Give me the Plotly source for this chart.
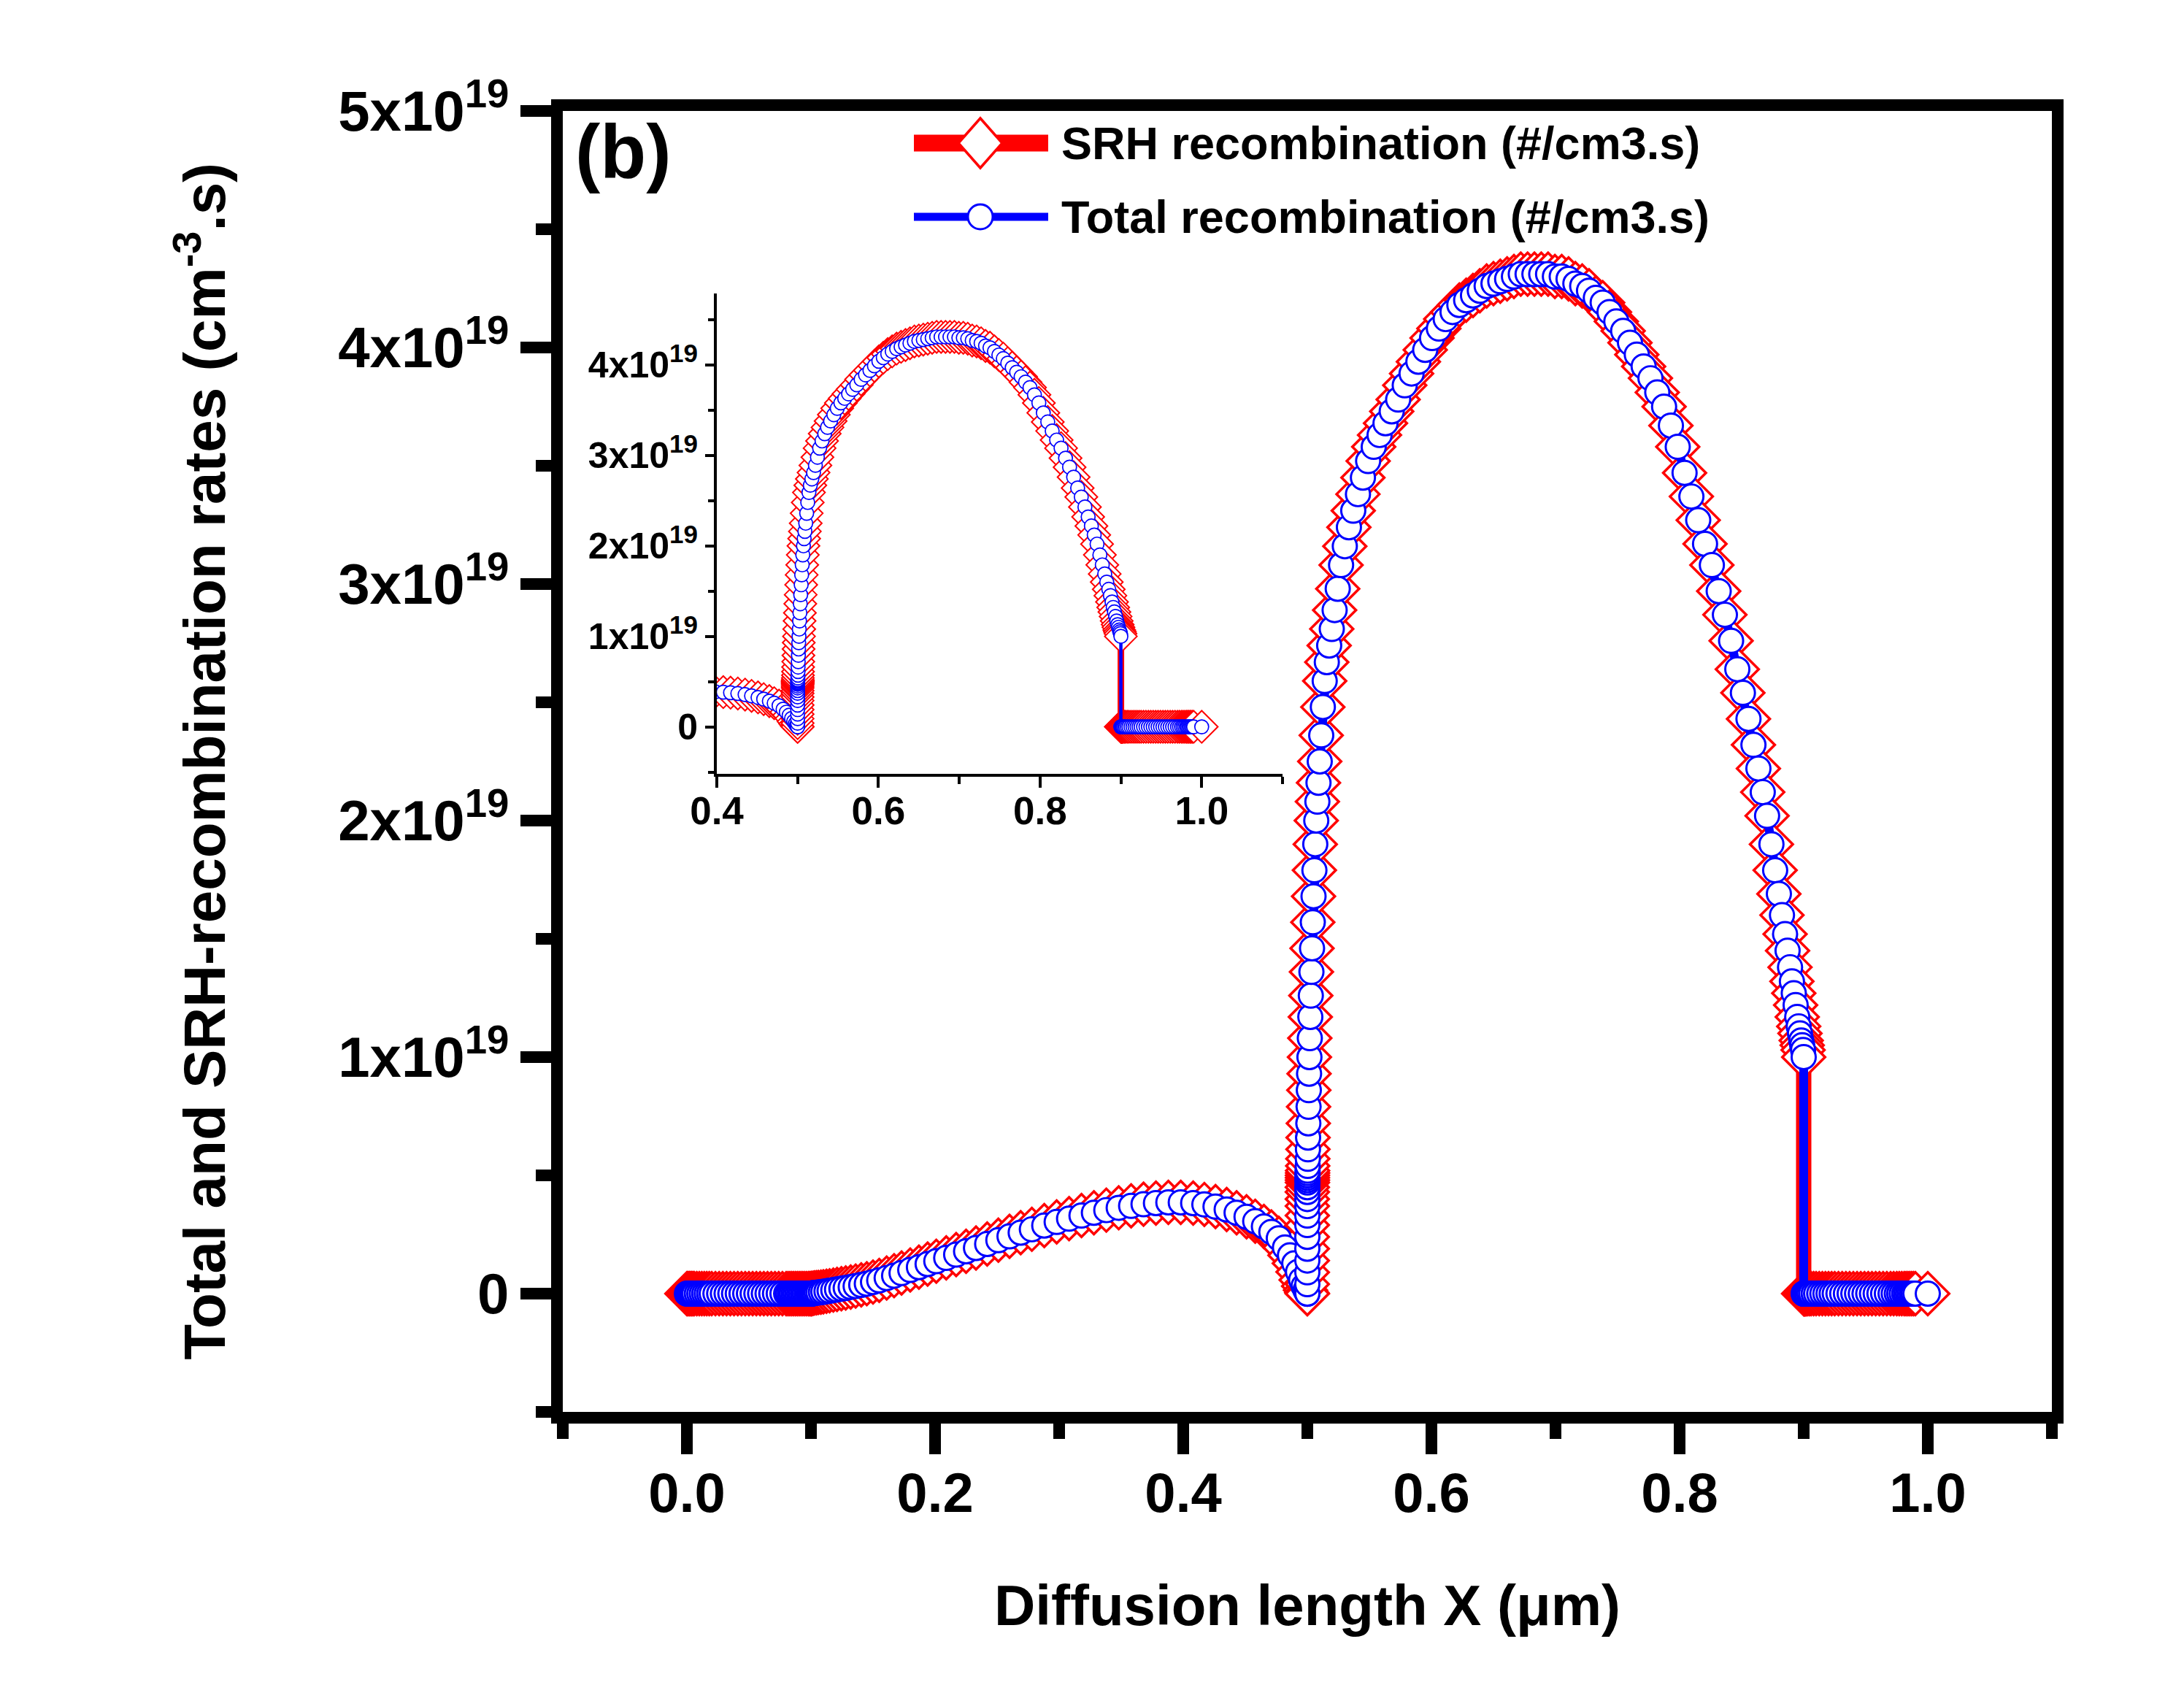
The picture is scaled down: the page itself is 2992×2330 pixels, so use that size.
import plotly.graph_objects as go

# Recombination rate profile, one block per layer.
# depth in um, rates in units of 1e19 cm^-3 s^-1

x_layer1 = [0.0, 0.001, 0.002, 0.003, 0.004, 0.005, 0.006, 0.008, 0.010, 0.012,
            0.014, 0.016, 0.018, 0.020, 0.023, 0.026, 0.029, 0.032, 0.035, 0.038,
            0.041, 0.044, 0.047, 0.050, 0.053, 0.056, 0.059, 0.062, 0.065, 0.068,
            0.071, 0.074, 0.077, 0.080, 0.0815, 0.083, 0.0845, 0.086, 0.0875, 0.089,
            0.0905, 0.092, 0.0935, 0.095, 0.0965, 0.098, 0.099]
rate_layer1 = [0.0, 0.0, 0.0, 0.0, 0.0, 0.0, 0.0, 0.0, 0.0, 0.0,
               0.0, 0.0, 0.0, 0.0, 0.0, 0.0, 0.0, 0.0, 0.0, 0.0,
               0.0, 0.0, 0.0, 0.0, 0.0, 0.0, 0.0, 0.0, 0.0, 0.0,
               0.0, 0.0, 0.0, 0.0, 0.0, 0.0, 0.0, 0.0, 0.0, 0.0,
               0.0, 0.0, 0.0, 0.0, 0.0, 0.0, 0.0]

x_layer2 = [0.1000, 0.1005, 0.1010, 0.1020, 0.1030, 0.1045, 0.1060, 0.1080, 0.1100, 0.1125,
            0.1150, 0.1180, 0.1210, 0.1245, 0.1280, 0.1320, 0.1360, 0.1405, 0.1450, 0.1500,
            0.1550, 0.1610, 0.1670, 0.1730, 0.1800, 0.1870, 0.1940, 0.2010, 0.2090, 0.2170,
            0.2250, 0.2330, 0.2420, 0.2510, 0.2600, 0.2690, 0.2780, 0.2880, 0.2980, 0.3080,
            0.3180, 0.3280, 0.3380, 0.3480, 0.3580, 0.3680, 0.3780, 0.3880, 0.3980, 0.4080,
            0.4170, 0.4260, 0.4350, 0.4430, 0.4510, 0.4580, 0.4650, 0.4710, 0.4770, 0.4820,
            0.4860, 0.4895, 0.4925, 0.4950, 0.4970, 0.4985, 0.4995, 0.5000]
rate_layer2 = [0.000, 0.000, 0.001, 0.002, 0.003, 0.004, 0.005, 0.006, 0.008, 0.010,
               0.012, 0.015, 0.018, 0.021, 0.024, 0.028, 0.032, 0.037, 0.042, 0.049,
               0.056, 0.066, 0.076, 0.087, 0.100, 0.112, 0.125, 0.137, 0.151, 0.165,
               0.179, 0.193, 0.210, 0.226, 0.242, 0.258, 0.272, 0.288, 0.303, 0.317,
               0.330, 0.342, 0.353, 0.363, 0.371, 0.378, 0.383, 0.386, 0.386, 0.383,
               0.377, 0.368, 0.356, 0.342, 0.325, 0.306, 0.284, 0.261, 0.234, 0.195,
               0.162, 0.128, 0.092, 0.058, 0.032, 0.015, 0.005, 0.000]

x_layer3 = [0.5000, 0.5000, 0.5000, 0.5000, 0.5000, 0.5000, 0.5000, 0.5000, 0.5000, 0.5000,
            0.5000, 0.5000, 0.5001, 0.5001, 0.5001, 0.5001, 0.5002, 0.5002, 0.5003, 0.5004,
            0.5005, 0.5006, 0.5008, 0.5010, 0.5012, 0.5014, 0.5017, 0.5020, 0.5024, 0.5028,
            0.5033, 0.5038, 0.5044, 0.5050, 0.5057, 0.5064, 0.5072, 0.5081, 0.5090, 0.5100,
            0.5112, 0.5125, 0.5140, 0.5157, 0.5176, 0.5197, 0.5220, 0.5245, 0.5272, 0.5302,
            0.5335, 0.5370, 0.5408, 0.5448, 0.5490, 0.5535, 0.5582, 0.5630, 0.5680, 0.5732,
            0.5785, 0.5840, 0.5895, 0.5950, 0.6005, 0.6060, 0.6115, 0.6170, 0.6225, 0.6280,
            0.6335, 0.6390, 0.6445, 0.6500, 0.6555, 0.6610, 0.6665, 0.6720, 0.6775, 0.6830,
            0.6885, 0.6940, 0.6995, 0.7050, 0.7105, 0.7160, 0.7215, 0.7270, 0.7325, 0.7380,
            0.7435, 0.7490, 0.7545, 0.7600, 0.7655, 0.7710, 0.7765, 0.7820, 0.7875, 0.7930,
            0.7985, 0.8040, 0.8095, 0.8150, 0.8205, 0.8260, 0.8315, 0.8365, 0.8415, 0.8465,
            0.8510, 0.8555, 0.8595, 0.8635, 0.8670, 0.8705, 0.8740, 0.8770, 0.8800, 0.8825,
            0.8850, 0.8870, 0.8890, 0.8905, 0.8920, 0.8935, 0.8948, 0.8960, 0.8970, 0.8980,
            0.8988, 0.8995, 0.9000]
rate_layer3 = [0.00, 0.04, 0.09, 0.14, 0.19, 0.24, 0.29, 0.33, 0.37, 0.40,
               0.43, 0.45, 0.47, 0.48, 0.49, 0.50, 0.51, 0.52, 0.54, 0.57,
               0.61, 0.66, 0.72, 0.79, 0.86, 0.93, 1.00, 1.08, 1.17, 1.26,
               1.36, 1.46, 1.57, 1.68, 1.79, 1.90, 2.00, 2.08, 2.16, 2.25,
               2.36, 2.48, 2.59, 2.67, 2.74, 2.81, 2.89, 2.98, 3.08, 3.16,
               3.24, 3.31, 3.38, 3.45, 3.52, 3.58, 3.63, 3.68, 3.73, 3.78,
               3.84, 3.89, 3.94, 3.99, 4.04, 4.08, 4.12, 4.15, 4.18, 4.20,
               4.22, 4.24, 4.26, 4.27, 4.28, 4.29, 4.30, 4.31, 4.31, 4.31,
               4.31, 4.31, 4.30, 4.30, 4.29, 4.27, 4.26, 4.24, 4.21, 4.19,
               4.15, 4.11, 4.07, 4.02, 3.97, 3.92, 3.87, 3.81, 3.75, 3.67,
               3.58, 3.47, 3.37, 3.27, 3.17, 3.08, 2.97, 2.87, 2.76, 2.64,
               2.54, 2.43, 2.32, 2.22, 2.12, 2.02, 1.90, 1.79, 1.69, 1.60,
               1.52, 1.45, 1.38, 1.32, 1.27, 1.22, 1.17, 1.13, 1.10, 1.07,
               1.05, 1.03, 1.00]

x_layer4 = [0.9000, 0.9001, 0.9003, 0.9006, 0.9010, 0.9015, 0.9022, 0.9030, 0.9045, 0.9060,
            0.9080, 0.9100, 0.9125, 0.9150, 0.9175, 0.9200, 0.9225, 0.9250, 0.9280, 0.9310,
            0.9340, 0.9370, 0.9400, 0.9430, 0.9460, 0.9490, 0.9520, 0.9550, 0.9580, 0.9610,
            0.9640, 0.9670, 0.9700, 0.9725, 0.9750, 0.9770, 0.9790, 0.9810, 0.9825, 0.9840,
            0.9855, 0.9870, 0.9885, 0.9900, 1.0000]
rate_layer4 = [0.0, 0.0, 0.0, 0.0, 0.0, 0.0, 0.0, 0.0, 0.0, 0.0,
               0.0, 0.0, 0.0, 0.0, 0.0, 0.0, 0.0, 0.0, 0.0, 0.0,
               0.0, 0.0, 0.0, 0.0, 0.0, 0.0, 0.0, 0.0, 0.0, 0.0,
               0.0, 0.0, 0.0, 0.0, 0.0, 0.0, 0.0, 0.0, 0.0, 0.0,
               0.0, 0.0, 0.0, 0.0, 0.0]

RATE_UNIT = 1e19

x_ticks = [0.0, 0.2, 0.4, 0.6, 0.8, 1.0]
x_tick_text = ["0.0", "0.2", "0.4", "0.6", "0.8", "1.0"]
x_minor = [-0.1, 0.1, 0.3, 0.5, 0.7, 0.9, 1.1]
y_ticks = [0, 1e19, 2e19, 3e19, 4e19, 5e19]
y_tick_text = ["0", "1x10<sup>19</sup>", "2x10<sup>19</sup>", "3x10<sup>19</sup>",
               "4x10<sup>19</sup>", "5x10<sup>19</sup>"]
y_minor = [-0.5e19, 0.5e19, 1.5e19, 2.5e19, 3.5e19, 4.5e19]

inset_x_ticks = [0.4, 0.6, 0.8, 1.0]
inset_x_text = ["0.4", "0.6", "0.8", "1.0"]
inset_x_minor = [0.5, 0.7, 0.9, 1.1]
inset_y_ticks = [0, 1e19, 2e19, 3e19, 4e19]
inset_y_text = ["0", "1x10<sup>19</sup>", "2x10<sup>19</sup>", "3x10<sup>19</sup>", "4x10<sup>19</sup>"]
inset_y_minor = [-0.5e19, 0.5e19, 1.5e19, 2.5e19, 3.5e19, 4.5e19]

x_um = x_layer1 + x_layer2 + x_layer3 + x_layer4
total_rate = [v * RATE_UNIT for v in rate_layer1 + rate_layer2 + rate_layer3 + rate_layer4]
# SRH and total recombination lie on top of each other at this scale
srh_rate = list(total_rate)

FONT = "Liberation Sans, Arial, sans-serif"
W, H = 2992, 2330
L, R, T, B = 771, 2811, 152, 1934   # plot area in page pixels


def px(xp):
    return (xp - L) / (R - L)


def py(yp):
    return (B - yp) / (B - T)


fig = go.Figure()

for xa, ya, dsize, csize, rw, bw, mlw in [("x", "y", 45, 33, 21, 12, 3.5),
                                          ("x2", "y2", 34, 19, 9, 4.5, 2)]:
    fig.add_trace(go.Scatter(
        x=x_um, y=srh_rate, mode="lines+markers", name="SRH recombination (#/cm3.s)",
        line=dict(color="red", width=rw),
        marker=dict(symbol="diamond", size=dsize, color="white", line=dict(color="red", width=mlw)),
        xaxis=xa, yaxis=ya, showlegend=False,
    ))
    fig.add_trace(go.Scatter(
        x=x_um, y=total_rate, mode="lines+markers", name="Total recombination (#/cm3.s)",
        line=dict(color="blue", width=bw),
        marker=dict(symbol="circle", size=csize, color="white", line=dict(color="blue", width=mlw * 0.85)),
        xaxis=xa, yaxis=ya, showlegend=False,
    ))

axis_common = dict(showgrid=False, zeroline=False, showline=True, linecolor="black",
                   ticks="outside", tickcolor="black", automargin=False, tickmode="array")

fig.update_layout(
    template="none",
    width=W, height=H,
    margin=dict(l=L, r=W - R, t=T, b=H - B),
    paper_bgcolor="white", plot_bgcolor="rgba(0,0,0,0)",
    font=dict(family=FONT, color="black"),
    showlegend=False,
    xaxis=dict(axis_common, range=[-0.1, 1.1], tickvals=x_ticks, ticktext=x_tick_text,
               linewidth=16, mirror=True, ticklen=42, tickwidth=16, ticklabelstandoff=-12,
               minor=dict(tickmode="array", tickvals=x_minor, ticks="outside",
                          ticklen=21, tickwidth=16, tickcolor="black"),
               tickfont=dict(size=76, weight="bold"),
               title=dict(text="Diffusion length X (μm)", font=dict(size=78, weight="bold"), standoff=92)),
    yaxis=dict(axis_common, range=[-0.5e19, 5e19], tickvals=y_ticks, ticktext=y_tick_text,
               linewidth=16, mirror=True, ticklen=42, tickwidth=16,
               minor=dict(tickmode="array", tickvals=y_minor, ticks="outside",
                          ticklen=21, tickwidth=16, tickcolor="black"),
               tickfont=dict(size=78, weight="bold"),
               title=dict(text="Total and SRH-recombination rates (cm<sup>-3</sup>.s)",
                          font=dict(size=80, weight="bold"), standoff=135)),
    xaxis2=dict(axis_common, domain=[px(982), px(1757)], anchor="y2", range=[0.4, 1.1],
                tickvals=inset_x_ticks, ticktext=inset_x_text,
                linewidth=4, ticklen=15, tickwidth=4, ticklabelstandoff=-14,
                minor=dict(tickmode="array", tickvals=inset_x_minor, ticks="outside",
                           ticklen=10, tickwidth=4, tickcolor="black"),
                tickfont=dict(size=53, weight="bold")),
    yaxis2=dict(axis_common, domain=[py(1060), py(402)], anchor="x2", range=[-0.52e19, 4.79e19],
                tickvals=inset_y_ticks, ticktext=inset_y_text,
                linewidth=4, ticklen=12, tickwidth=4,
                minor=dict(tickmode="array", tickvals=inset_y_minor, ticks="outside",
                           ticklen=8, tickwidth=4, tickcolor="black"),
                tickfont=dict(size=50, weight="bold")),
)

# panel label
fig.add_annotation(text="(b)", xref="paper", yref="paper", x=px(786), y=py(208),
                   xanchor="left", yanchor="middle", showarrow=False,
                   font=dict(size=103, weight="bold", family=FONT))

# legend drawn by hand so the keys keep the large symbols of the original
legend_rows = [("SRH recombination (#/cm3.s)", "red", 196, 23),
               ("Total recombination (#/cm3.s)", "blue", 297, 11)]
for label, color, yrow, lw in legend_rows:
    fig.add_shape(type="line", xref="paper", yref="paper",
                  x0=px(1252), x1=px(1436), y0=py(yrow), y1=py(yrow),
                  line=dict(color=color, width=lw))
    if color == "red":
        fig.add_shape(type="path", xref="paper", yref="paper",
                      path=f"M {px(1313)} {py(yrow)} L {px(1343)} {py(yrow - 34)} "
                           f"L {px(1373)} {py(yrow)} L {px(1343)} {py(yrow + 34)} Z",
                      fillcolor="white", line=dict(color="red", width=3.5))
    else:
        fig.add_shape(type="circle", xref="paper", yref="paper",
                      x0=px(1326), x1=px(1360), y0=py(yrow + 17), y1=py(yrow - 17),
                      fillcolor="white", line=dict(color="blue", width=3))
    fig.add_annotation(text=label, xref="paper", yref="paper", x=px(1452), y=py(yrow),
                       xanchor="left", yanchor="middle", showarrow=False,
                       font=dict(size=63, weight="bold", family=FONT))

fig.write_html("out.html", config={"displayModeBar": False},
               post_script="document.body.style.margin='0px';")
